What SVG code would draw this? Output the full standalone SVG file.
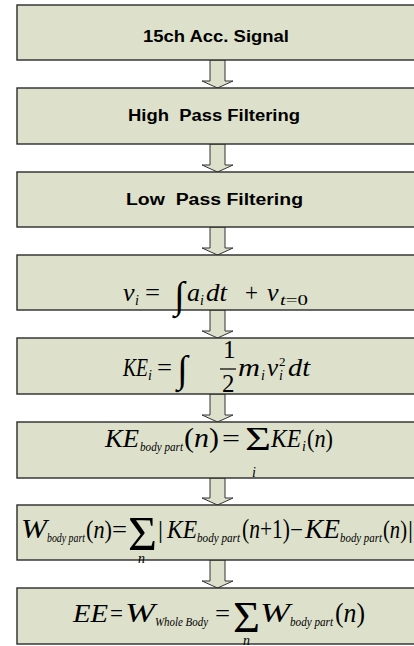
<svg xmlns="http://www.w3.org/2000/svg" width="414" height="646" viewBox="0 0 414 646">
<style>
.box{fill:#dde0cb;stroke:#2b2b2b;stroke-width:1.4}
.arr{fill:#dde0cb;stroke:#333;stroke-width:1}
.lbl{font-family:"Liberation Sans",Arial,sans-serif;font-weight:bold;font-size:16px;fill:#000}
.m{font-family:"Liberation Serif","Times New Roman",serif;font-size:25px;fill:#000}
.i{font-style:italic}
.s{font-size:13px}
.t{font-size:14px}
.int{font-size:38px}
</style>
<rect width="414" height="646" fill="#fff"/>
<g id="connectors">
<polygon class="arr" points="210,60 225,60 225,81 233,81 217.5,88 202,81 210,81"/>
<polygon class="arr" points="210,144 225,144 225,165 233,165 217.5,172 202,165 210,165"/>
<polygon class="arr" points="210,227 225,227 225,248 233,248 217.5,255 202,248 210,248"/>
<polygon class="arr" points="210,310 225,310 225,331 233,331 217.5,338 202,331 210,331"/>
<polygon class="arr" points="210,394 225,394 225,415 233,415 217.5,422 202,415 210,415"/>
<polygon class="arr" points="210,478 225,478 225,498 233,498 217.5,505 202,498 210,498"/>
<polygon class="arr" points="210,560 225,560 225,581 233,581 217.5,588 202,581 210,581"/>
</g>
<g id="n1">
<rect class="box" x="17" y="5" width="420" height="55"/>
<text class="lbl" x="143" y="41.5" textLength="146" lengthAdjust="spacingAndGlyphs">15ch Acc. Signal</text>
</g>
<g id="n2">
<rect class="box" x="17" y="88" width="420" height="56"/>
<text class="lbl" x="128" y="120.5" textLength="172" lengthAdjust="spacingAndGlyphs" xml:space="preserve">High  Pass Filtering</text>
</g>
<g id="n3">
<rect class="box" x="17" y="172" width="420" height="55"/>
<text class="lbl" x="126" y="205" textLength="177" lengthAdjust="spacingAndGlyphs" xml:space="preserve">Low  Pass Filtering</text>
</g>
<g id="n4">
<rect class="box" x="17" y="255" width="420" height="55"/>
<text class="m i" x="123" y="301" style="font-size:26px">v</text>
<text class="m i t" x="135" y="305">i</text>
<text class="m" x="145" y="301" textLength="15" lengthAdjust="spacingAndGlyphs">=</text>
<text class="m int" x="174" y="308">∫</text>
<text class="m i" x="187" y="301" style="font-size:26px">a</text>
<text class="m i t" x="200" y="305">i</text>
<text class="m i" x="206" y="301" style="font-size:26px" textLength="21" lengthAdjust="spacingAndGlyphs">dt</text>
<text class="m" x="245" y="301" textLength="13" lengthAdjust="spacingAndGlyphs">+</text>
<text class="m i" x="267" y="301" style="font-size:26px">v</text>
<text class="m t" x="280" y="305" textLength="28" lengthAdjust="spacingAndGlyphs"><tspan class="i">t</tspan>=0</text>
</g>
<g id="n5">
<rect class="box" x="17" y="338" width="420" height="56"/>
<text class="m i" x="123" y="376" textLength="25" lengthAdjust="spacingAndGlyphs">KE</text>
<text class="m i t" x="148" y="380">i</text>
<text class="m" x="157" y="376" textLength="15" lengthAdjust="spacingAndGlyphs">=</text>
<text class="m int" x="177" y="382">∫</text>
<text class="m" x="223" y="358">1</text>
<line x1="220" y1="369" x2="236" y2="369" stroke="#000" stroke-width="1.2"/>
<text class="m" x="222" y="392">2</text>
<text class="m i" x="238" y="376" textLength="22" lengthAdjust="spacingAndGlyphs">m</text>
<text class="m i t" x="261" y="380">i</text>
<text class="m i" x="267" y="376">v</text>
<text class="m s" x="279" y="366">2</text>
<text class="m i t" x="279" y="380">i</text>
<text class="m i" x="288" y="376" textLength="22" lengthAdjust="spacingAndGlyphs">dt</text>
</g>
<g id="n6">
<rect class="box" x="17" y="422" width="420" height="56"/>
<text class="m i" x="105" y="447" textLength="34" lengthAdjust="spacingAndGlyphs">KE</text>
<text class="m i s" x="140" y="451" textLength="43" lengthAdjust="spacingAndGlyphs">body part</text>
<text class="m" x="184" y="447" style="font-size:28px" textLength="35" lengthAdjust="spacingAndGlyphs">(<tspan class="i">n</tspan>)</text>
<text class="m" x="222" y="447" textLength="18" lengthAdjust="spacingAndGlyphs">=</text>
<text class="m" x="245" y="450" style="font-size:34px" textLength="26" lengthAdjust="spacingAndGlyphs">Σ</text>
<text class="m i t" x="252" y="477">i</text>
<text class="m i" x="271" y="447" textLength="30" lengthAdjust="spacingAndGlyphs">KE</text>
<text class="m i t" x="302" y="451">i</text>
<text class="m" x="307" y="447" style="font-size:26px" textLength="26" lengthAdjust="spacingAndGlyphs">(<tspan class="i">n</tspan>)</text>
</g>
<g id="n7">
<rect class="box" x="17" y="505" width="420" height="55"/>
<text class="m i" x="21" y="538" style="font-size:27px" textLength="26" lengthAdjust="spacingAndGlyphs">W</text>
<text class="m i s" x="47" y="542" textLength="38" lengthAdjust="spacingAndGlyphs">body part</text>
<text class="m" x="86" y="538" style="font-size:26px" textLength="26" lengthAdjust="spacingAndGlyphs">(<tspan class="i">n</tspan>)</text>
<text class="m" x="112" y="538" textLength="15" lengthAdjust="spacingAndGlyphs">=</text>
<text class="m" x="128" y="550" style="font-size:48px" textLength="29" lengthAdjust="spacingAndGlyphs">Σ</text>
<text class="m i t" x="138" y="563">n</text>
<text class="m" x="158" y="538">|</text>
<text class="m i" x="167" y="538" textLength="30" lengthAdjust="spacingAndGlyphs">KE</text>
<text class="m i s" x="197" y="542" textLength="43" lengthAdjust="spacingAndGlyphs">body part</text>
<text class="m" x="242" y="538" style="font-size:27px" textLength="48" lengthAdjust="spacingAndGlyphs">(<tspan class="i">n</tspan>+1)</text>
<text class="m" x="290" y="538" textLength="13" lengthAdjust="spacingAndGlyphs">−</text>
<text class="m i" x="305" y="538" style="font-size:27px" textLength="35" lengthAdjust="spacingAndGlyphs">KE</text>
<text class="m i s" x="340" y="542" textLength="42" lengthAdjust="spacingAndGlyphs">body part</text>
<text class="m" x="383" y="538" style="font-size:26px" textLength="24" lengthAdjust="spacingAndGlyphs">(<tspan class="i">n</tspan>)</text>
<text class="m" x="408" y="538">|</text>
</g>
<g id="n8">
<rect class="box" x="17" y="588" width="420" height="56"/>
<text class="m i" x="73" y="622" textLength="35" lengthAdjust="spacingAndGlyphs">EE</text>
<text class="m" x="110" y="622" textLength="13" lengthAdjust="spacingAndGlyphs">=</text>
<text class="m i" x="125" y="622" style="font-size:28px" textLength="30" lengthAdjust="spacingAndGlyphs">W</text>
<text class="m i s" x="155" y="626" textLength="53" lengthAdjust="spacingAndGlyphs">Whole Body</text>
<text class="m" x="215" y="622" textLength="15" lengthAdjust="spacingAndGlyphs">=</text>
<text class="m" x="233" y="632" style="font-size:45px" textLength="27" lengthAdjust="spacingAndGlyphs">Σ</text>
<text class="m i t" x="243" y="645">n</text>
<text class="m i" x="260" y="622" style="font-size:28px" textLength="30" lengthAdjust="spacingAndGlyphs">W</text>
<text class="m i s" x="290" y="626" textLength="43" lengthAdjust="spacingAndGlyphs">body part</text>
<text class="m" x="335" y="622" style="font-size:28px" textLength="30" lengthAdjust="spacingAndGlyphs">(<tspan class="i">n</tspan>)</text>
</g>
</svg>
